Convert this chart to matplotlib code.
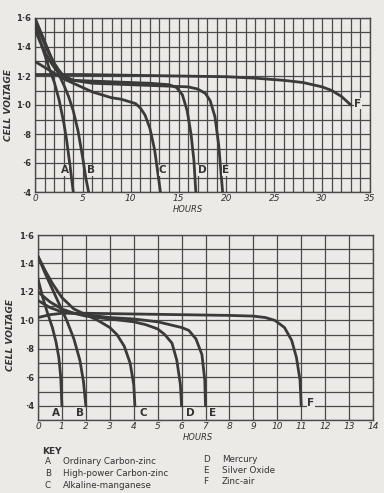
import matplotlib
matplotlib.use("Agg")
import matplotlib.pyplot as plt

# ---- data: top chart (hours 0-35) ----
top_a_h = [0, 0.5, 1.0, 1.5, 2.0, 2.5, 3.0, 3.3, 3.6, 3.85, 4.0]
top_a_v = [1.55, 1.45, 1.35, 1.25, 1.16, 1.04, 0.88, 0.76, 0.61, 0.48, 0.40]
top_b_h = [0, 0.5, 1.0, 1.5, 2.0, 2.5, 3.0, 3.5, 4.0, 4.5, 5.0, 5.3, 5.6]
top_b_v = [1.60, 1.52, 1.44, 1.36, 1.28, 1.21, 1.14, 1.06, 0.96, 0.82, 0.63, 0.50, 0.40]
top_c_h = [0, 1, 2, 3, 4, 5, 6, 7, 8, 9, 10, 10.5, 11, 11.5, 12, 12.5, 12.9, 13.1]
top_c_v = [1.30, 1.26, 1.22, 1.18, 1.15, 1.12, 1.09, 1.07, 1.05, 1.04, 1.02, 1.01,
           0.98, 0.93, 0.84, 0.69, 0.50, 0.40]
top_d_h = [0, 0.5, 1, 1.5, 2, 2.5, 3, 4, 6, 8, 10, 12, 14, 14.8, 15.4, 15.9, 16.3, 16.6, 16.8]
top_d_v = [1.52, 1.44, 1.37, 1.31, 1.26, 1.22, 1.19, 1.17, 1.165, 1.16, 1.155, 1.15,
           1.14, 1.12, 1.07, 0.96, 0.80, 0.62, 0.40]
top_e_h = [0, 0.5, 1, 1.5, 2, 2.5, 3, 4, 6, 10, 14, 16, 17, 17.8, 18.3, 18.8, 19.2, 19.6]
top_e_v = [1.58, 1.50, 1.42, 1.35, 1.29, 1.24, 1.20, 1.17, 1.15, 1.14, 1.13, 1.125,
           1.11, 1.08, 1.03, 0.92, 0.72, 0.40]
top_f_h = [0, 5, 10, 15, 20, 23, 26, 28, 30, 31, 32, 33]
top_f_v = [1.21, 1.21, 1.205, 1.20, 1.195, 1.185, 1.17, 1.155, 1.125, 1.10, 1.06, 1.00]

# ---- data: bottom chart (hours 0-14) ----
bot_a_h = [0, 0.2, 0.4, 0.6, 0.75, 0.87, 0.95, 1.0]
bot_a_v = [1.29, 1.16, 1.05, 0.95, 0.85, 0.74, 0.60, 0.40]
bot_b_h = [0, 0.3, 0.6, 0.9, 1.2, 1.5, 1.75, 1.9, 2.0]
bot_b_v = [1.45, 1.33, 1.22, 1.11, 1.00, 0.87, 0.72, 0.57, 0.40]
bot_c_h = [0, 0.3, 0.6, 1.0, 1.5, 2.0, 2.5, 3.0, 3.3, 3.6, 3.85, 4.0, 4.05]
bot_c_v = [1.45, 1.35, 1.26, 1.16, 1.08, 1.04, 1.00, 0.95, 0.90, 0.82, 0.70, 0.55, 0.40]
bot_d_h = [0, 0.5, 1, 1.5, 2, 3, 4, 4.5, 5, 5.3, 5.6, 5.8, 5.95, 6.0]
bot_d_v = [1.20, 1.13, 1.08, 1.05, 1.03, 1.01, 0.99, 0.97, 0.94, 0.90, 0.84, 0.72, 0.55, 0.40]
bot_e_h = [0, 0.5, 1, 2, 3, 4, 5, 5.5, 6, 6.3, 6.6, 6.85, 6.97, 7.0]
bot_e_v = [1.14, 1.09, 1.06, 1.04, 1.02, 1.01, 0.99, 0.97, 0.95, 0.93, 0.87, 0.76, 0.58, 0.40]
bot_f_h = [0, 0.5, 1, 2, 4, 6, 8, 9, 9.5, 9.9, 10.3, 10.6, 10.8, 10.95, 11.0]
bot_f_v = [1.02, 1.04, 1.05, 1.05, 1.045, 1.04, 1.035, 1.03, 1.02, 1.00, 0.95, 0.86,
           0.74, 0.58, 0.40]

# curve letters: (letter, hour, volts)
top_letters = [("A", 3.1, 0.55), ("B", 5.85, 0.55), ("C", 13.35, 0.55),
               ("D", 17.45, 0.55), ("E", 19.95, 0.55), ("F", 33.7, 1.01)]
bot_letters = [("A", 0.75, 0.35), ("B", 1.75, 0.35), ("C", 4.4, 0.35),
               ("D", 6.35, 0.35), ("E", 7.3, 0.35), ("F", 11.4, 0.42)]

volt_ticks = [0.4, 0.6, 0.8, 1.0, 1.2, 1.4, 1.6]
volt_labels = ["·4", "·6", "·8", "1·0", "1·2", "1·4", "1·6"]

key_left = [("A", "Ordinary Carbon-zinc"), ("B", "High-power Carbon-zinc"),
            ("C", "Alkaline-manganese")]
key_right = [("D", "Mercury"), ("E", "Silver Oxide"), ("F", "Zinc-air")]

PAPER = "#ebeae6"
GRID = "#4a4a4a"
INK = "#333333"

W, H = 384, 493
fig = plt.figure(figsize=(W / 100, H / 100), dpi=100, facecolor=PAPER)


def px_axes(left, top, right, bottom):
    return fig.add_axes([left / W, 1 - bottom / H, (right - left) / W, (bottom - top) / H])


def style(ax, xmax, ymin, xticks):
    ax.set_facecolor(PAPER)
    ax.set_xlim(0, xmax)
    ax.set_ylim(ymin, 1.6)
    # grid: one cell per hour, one cell per 0.1 volt
    for h in range(0, xmax + 1):
        ax.axvline(h, color=GRID, lw=0.9, zorder=1)
    v = ymin
    while v <= 1.6001:
        ax.axhline(v, color=GRID, lw=0.9, zorder=1)
        v += 0.1
    for s in ax.spines.values():
        s.set_color(GRID)
        s.set_linewidth(1.0)
    ax.set_xticks(xticks)
    ax.set_xticklabels([str(t) for t in xticks], fontsize=6.5, style="italic", color=INK)
    ax.set_yticks(volt_ticks)
    ax.set_yticklabels(volt_labels, fontsize=6, color=INK, fontweight="bold")
    ax.tick_params(axis="x", length=0, pad=1.5)
    ax.tick_params(axis="y", length=0, pad=3)


# ---- top chart ----
ax1 = px_axes(35, 18, 370, 192)
style(ax1, 35, 0.4, list(range(0, 36, 5)))
for hh, vv in [(top_a_h, top_a_v), (top_b_h, top_b_v), (top_c_h, top_c_v),
               (top_d_h, top_d_v), (top_e_h, top_e_v), (top_f_h, top_f_v)]:
    ax1.plot(hh, vv, color="#3a3a3a", lw=2.0, solid_capstyle="round", zorder=3)
for name, h, v in top_letters:
    ax1.text(h, v, name, fontsize=7.5, fontweight="bold", color=INK,
             ha="center", va="center", zorder=4,
             bbox=dict(facecolor=PAPER, edgecolor="none", pad=0.3))

# ---- bottom chart ----
ax2 = px_axes(38, 235, 373, 420)
style(ax2, 14, 0.3, list(range(0, 15)))
for hh, vv in [(bot_a_h, bot_a_v), (bot_b_h, bot_b_v), (bot_c_h, bot_c_v),
               (bot_d_h, bot_d_v), (bot_e_h, bot_e_v), (bot_f_h, bot_f_v)]:
    ax2.plot(hh, vv, color="#3a3a3a", lw=2.0, solid_capstyle="round", zorder=3)
for name, h, v in bot_letters:
    ax2.text(h, v, name, fontsize=7.5, fontweight="bold", color=INK,
             ha="center", va="center", zorder=4,
             bbox=dict(facecolor=PAPER, edgecolor="none", pad=0.3))

# axis titles
fig.text(188 / W, 1 - 210 / H, "HOURS", fontsize=6, style="italic", color=INK,
         ha="center", va="center")
fig.text(198 / W, 1 - 437 / H, "HOURS", fontsize=6, style="italic", color=INK,
         ha="center", va="center")
fig.text(9 / W, 1 - 105 / H, "CELL VOLTAGE", fontsize=6.5, style="italic",
         fontweight="bold", color=INK, rotation=90, ha="center", va="center")
fig.text(11 / W, 1 - 335 / H, "CELL VOLTAGE", fontsize=6.5, style="italic",
         fontweight="bold", color=INK, rotation=90, ha="center", va="center")

# key
fig.text(42 / W, 1 - 452 / H, "KEY", fontsize=6.5, fontweight="bold", color=INK,
         va="center")
for i, (k, label) in enumerate(key_left):
    y = 1 - (461 + i * 12.5) / H
    fig.text(48 / W, y, k, fontsize=6.3, color=INK, va="center", ha="center")
    fig.text(63 / W, y, label, fontsize=6.3, color=INK, va="center")
for i, (k, label) in enumerate(key_right):
    y = 1 - (459 + i * 11.5) / H
    fig.text(206 / W, y, k, fontsize=6.3, color=INK, va="center", ha="center")
    fig.text(222 / W, y, label, fontsize=6.3, color=INK, va="center")

fig.savefig("out.png", dpi=100, facecolor=PAPER)
